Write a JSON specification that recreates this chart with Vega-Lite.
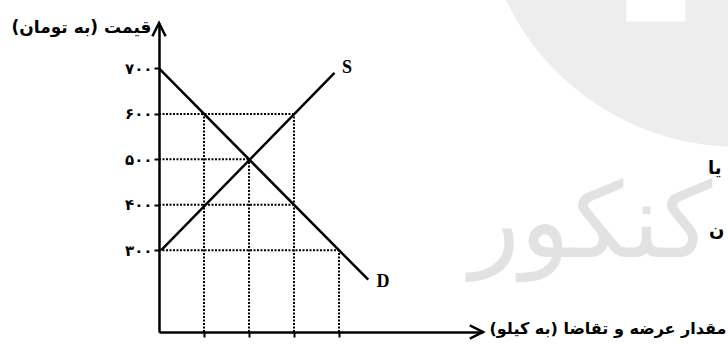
{
  "$schema": "https://vega.github.io/schema/vega-lite/v6.json",
  "autosize": {"type": "none"},
  "width": 324,
  "height": 309,
  "padding": {"left": 159, "top": 23, "right": 245, "bottom": 12},
  "background": "white",
  "config": {"view": {"stroke": null}},
  "datasets": {
    "guides": [
      {"q": 0, "q2": 3, "p": 600, "p2": 600},
      {"q": 0, "q2": 2, "p": 500, "p2": 500},
      {"q": 0, "q2": 3, "p": 400, "p2": 400},
      {"q": 0, "q2": 4, "p": 300, "p2": 300},
      {"q": 1, "q2": 1, "p": 120, "p2": 600},
      {"q": 2, "q2": 2, "p": 120, "p2": 500},
      {"q": 3, "q2": 3, "p": 120, "p2": 600},
      {"q": 4, "q2": 4, "p": 120, "p2": 300}
    ],
    "curves": [
      {"curve": "D", "q": 0, "p": 700},
      {"curve": "D", "q": 4.65, "p": 235},
      {"curve": "S", "q": 0.05, "p": 300},
      {"curve": "S", "q": 3.9, "p": 690}
    ],
    "labels": [
      {"label": "S", "q": 4.18, "p": 701},
      {"label": "D", "q": 4.98, "p": 230}
    ],
    "one": [{"k": 1}]
  },
  "layer": [
    {
      "data": {"name": "one"},
      "mark": {"type": "point", "shape": "circle", "filled": true, "color": "#ededed", "opacity": 1, "size": 264196},
      "encoding": {
        "x": {
          "datum": 12.87, "type": "quantitative",
          "scale": {"domain": [0, 7.2], "nice": false, "zero": false},
          "axis": {
            "values": [1, 2, 3, 4], "labels": false, "grid": false,
            "domainColor": "black", "domainWidth": 2.5,
            "tickColor": "black", "tickWidth": 2, "tickSize": 5,
            "title": "مقدار عرضه و تقاضا (به کیلو)‏",
            "titleAngle": 0, "titleX": 330, "titleY": -4,
            "titleAlign": "left", "titleBaseline": "middle",
            "titleFont": "DejaVu Sans", "titleFontSize": 16, "titleFontWeight": "bold", "titleColor": "black"
          }
        },
        "y": {
          "datum": 1093, "type": "quantitative",
          "scale": {"domain": [120, 800], "nice": false, "zero": false},
          "axis": {
            "values": [300, 400, 500, 600, 700], "grid": false,
            "labelExpr": "datum.value == 300 ? '۳۰۰' : datum.value == 400 ? '۴۰۰' : datum.value == 500 ? '۵۰۰' : datum.value == 600 ? '۶۰۰' : '۷۰۰'",
            "labelFont": "DejaVu Sans", "labelFontSize": 15, "labelFontWeight": "bold", "labelColor": "black", "labelPadding": 2,
            "domainColor": "black", "domainWidth": 2.5,
            "tickColor": "black", "tickWidth": 2, "tickSize": 5,
            "title": "قیمت (به تومان)‏",
            "titleAngle": 0, "titleX": -8, "titleY": 4,
            "titleAlign": "right", "titleBaseline": "middle",
            "titleFont": "DejaVu Sans", "titleFontSize": 17, "titleFontWeight": "bold", "titleColor": "black"
          }
        }
      }
    },
    {
      "data": {"name": "one"},
      "mark": {"type": "point", "shape": "square", "filled": true, "color": "white", "opacity": 1, "size": 3481},
      "encoding": {"x": {"datum": 11.04, "type": "quantitative"}, "y": {"datum": 868, "type": "quantitative"}}
    },
    {
      "data": {"name": "one"},
      "mark": {"type": "text", "text": "کنکور", "font": "DejaVu Sans", "fontSize": 104, "color": "#e2e2e2", "align": "center", "baseline": "alphabetic"},
      "encoding": {"x": {"datum": 9.6, "type": "quantitative"}, "y": {"datum": 285, "type": "quantitative"}}
    },
    {
      "data": {"name": "one"},
      "mark": {"type": "text", "text": "یا", "font": "DejaVu Sans", "fontSize": 18, "fontWeight": "bold", "color": "black", "align": "left", "baseline": "alphabetic"},
      "encoding": {"x": {"datum": 12.2, "type": "quantitative"}, "y": {"datum": 468, "type": "quantitative"}}
    },
    {
      "data": {"name": "one"},
      "mark": {"type": "text", "text": "ن", "font": "DejaVu Sans", "fontSize": 18, "fontWeight": "bold", "color": "black", "align": "left", "baseline": "alphabetic"},
      "encoding": {"x": {"datum": 12.22, "type": "quantitative"}, "y": {"datum": 331, "type": "quantitative"}}
    },
    {
      "data": {"name": "guides"},
      "mark": {"type": "rule", "color": "black", "strokeWidth": 2, "strokeDash": [2, 1.5]},
      "encoding": {
        "x": {"field": "q", "type": "quantitative"},
        "x2": {"field": "q2"},
        "y": {"field": "p", "type": "quantitative"},
        "y2": {"field": "p2"}
      }
    },
    {
      "data": {"name": "curves"},
      "mark": {"type": "line", "color": "black", "strokeWidth": 2.5},
      "encoding": {
        "x": {"field": "q", "type": "quantitative"},
        "y": {"field": "p", "type": "quantitative"},
        "detail": {"field": "curve"}
      }
    },
    {
      "data": {"name": "labels"},
      "mark": {"type": "text", "font": "Liberation Serif", "fontSize": 18, "fontWeight": "bold", "color": "black", "align": "center", "baseline": "middle"},
      "encoding": {
        "x": {"field": "q", "type": "quantitative"},
        "y": {"field": "p", "type": "quantitative"},
        "text": {"field": "label"}
      }
    },
    {
      "data": {"name": "one"},
      "mark": {"type": "point", "shape": "M-0.5,1L0,0L0.5,1", "filled": false, "color": "black", "opacity": 1, "strokeWidth": 2.5, "size": 700},
      "encoding": {"x": {"datum": 0, "type": "quantitative"}, "y": {"datum": 800, "type": "quantitative"}}
    },
    {
      "data": {"name": "one"},
      "mark": {"type": "point", "shape": "M-1,-0.5L0,0L-1,0.5", "filled": false, "color": "black", "opacity": 1, "strokeWidth": 2.5, "size": 700},
      "encoding": {"x": {"datum": 7.2, "type": "quantitative"}, "y": {"datum": 120, "type": "quantitative"}}
    }
  ]
}
